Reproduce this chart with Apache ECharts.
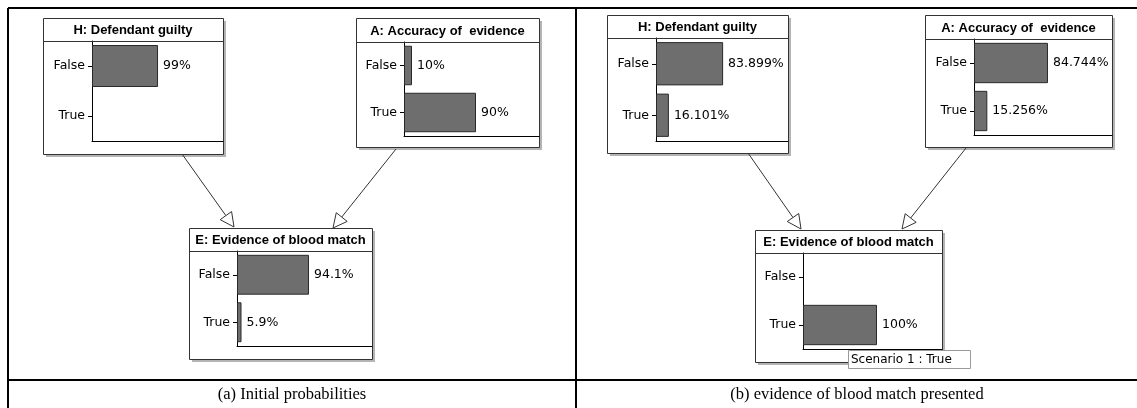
<!DOCTYPE html>
<html>
<head>
<meta charset="utf-8">
<script src="https://cdn.jsdelivr.net/npm/echarts@6/dist/echarts.min.js"></script>
<style>
  html, body { margin: 0; padding: 0; background: #fff; }
  #chart { width: 1137px; height: 408px; }
</style>
</head>
<body>
<div id="chart"></div>
<script>
// states of every node
const categories = ['False', 'True']

// (a) initial probabilities, in %
const hPriorValues = [99, '-']
const aPriorValues = [10, 90]
const ePriorValues = [94.1, 5.9]

// (b) after the blood match evidence, in %
const hPostValues = [83.899, 16.101]
const aPostValues = [84.744, 15.256]
const ePostValues = ['-', 100]

const nodeTitles = ['H: Defendant guilty', 'A: Accuracy of  evidence', 'E: Evidence of blood match']
const captions = ['(a) Initial probabilities', '(b) evidence of blood match presented']

// node boxes (layout only)
const nodes = [
  { title: nodeTitles[0], values: hPriorValues, x: 43, y: 18, w: 180, h: 136, sep: 41, axisX: 92, bottom: 141, px100: 66.7 },
  { title: nodeTitles[1], values: aPriorValues, x: 356, y: 18, w: 183, h: 129, sep: 42, axisX: 404, bottom: 136, px100: 80 },
  { title: nodeTitles[2], values: ePriorValues, x: 189, y: 228, w: 183, h: 131, sep: 251, axisX: 237, bottom: 346, px100: 76.5 },
  { title: nodeTitles[0], values: hPostValues, x: 607, y: 15, w: 181, h: 138, sep: 38, axisX: 656, bottom: 141, px100: 80 },
  { title: nodeTitles[1], values: aPostValues, x: 925, y: 15, w: 187, h: 132, sep: 39, axisX: 974, bottom: 135, px100: 87.3 },
  { title: nodeTitles[2], values: ePostValues, x: 755, y: 230, w: 187, h: 132, sep: 253, axisX: 803, bottom: 349, px100: 74 }
]

const arrows = [
  [182, 154, 234, 227], [396, 149, 333, 228],
  [748, 153, 801, 229], [966, 148, 902, 229]
]

const labelFont = 'DejaVu Sans'
const chart = echarts.init(document.getElementById('chart'))

const grids = [], xAxes = [], yAxes = [], series = [], graphics = []

nodes.forEach((n, i) => {
  const width = n.x + n.w - n.axisX
  grids.push({ left: n.axisX, top: n.sep, width: width, height: n.bottom - n.sep })
  xAxes.push({
    gridIndex: i, type: 'value', min: 0, max: 100 * width / n.px100,
    axisLine: { show: true, lineStyle: { color: '#000', width: 1 } },
    axisTick: { show: false }, axisLabel: { show: false }, splitLine: { show: false }
  })
  yAxes.push({
    gridIndex: i, type: 'category', data: categories, inverse: true,
    axisLine: { show: true, lineStyle: { color: '#000', width: 1 } },
    axisTick: { show: true, alignWithLabel: true, length: 4, lineStyle: { color: '#000' } },
    axisLabel: { color: '#000', fontSize: 12.5, fontFamily: labelFont, margin: 7 }
  })
  series.push({
    type: 'bar', xAxisIndex: i, yAxisIndex: i, data: n.values,
    barCategoryGap: '16%', silent: true,
    itemStyle: { color: '#6e6e6e', borderColor: '#2a2a2a', borderWidth: 1 },
    label: {
      show: true, position: 'right', distance: 5, color: '#000',
      fontSize: 12.5, fontFamily: labelFont, formatter: p => p.value + '%'
    }
  })

  // box, shadow, title bar
  graphics.push(
    { type: 'rect', z: -20, shape: { x: n.x + 3, y: n.y + 3, width: n.w, height: n.h }, style: { fill: '#b4b4b4' } },
    { type: 'rect', z: -10, shape: { x: n.x + 0.5, y: n.y + 0.5, width: n.w, height: n.h }, style: { fill: '#fff', stroke: '#333', lineWidth: 1 } },
    { type: 'line', z: 5, shape: { x1: n.x, y1: n.sep + 0.5, x2: n.x + n.w, y2: n.sep + 0.5 }, style: { stroke: '#333', lineWidth: 1 } },
    {
      type: 'text', z: 5, x: n.x + n.w / 2, y: (n.y + n.sep) / 2 + 1,
      style: { text: n.title, font: 'bold 13px "Liberation Sans", Arial, sans-serif', fill: '#000', align: 'center', verticalAlign: 'middle' }
    }
  )
})

// arrows with hollow heads
arrows.forEach(([x1, y1, x2, y2]) => {
  const len = Math.hypot(x2 - x1, y2 - y1)
  const ux = (x2 - x1) / len, uy = (y2 - y1) / len
  const bx = x2 - ux * 14, by = y2 - uy * 14
  const px = -uy * 7, py = ux * 7
  graphics.push(
    { type: 'line', z: 8, shape: { x1, y1, x2: bx, y2: by }, style: { stroke: '#333', lineWidth: 1 } },
    { type: 'polygon', z: 8, shape: { points: [[x2, y2], [bx + px, by + py], [bx - px, by - py]] }, style: { fill: '#fff', stroke: '#333', lineWidth: 1 } }
  )
})

// table frame
const tableLine = (x1, y1, x2, y2) => ({ type: 'line', z: 20, shape: { x1, y1, x2, y2 }, style: { stroke: '#000', lineWidth: 2 } })
graphics.push(
  tableLine(8, 8, 1140, 8),
  tableLine(8, 8, 8, 410),
  tableLine(576, 8, 576, 410),
  tableLine(8, 380, 1140, 380)
)
captions.forEach((c, i) => {
  graphics.push({
    type: 'text', z: 20, x: i === 0 ? 292 : 857, y: 395,
    style: { text: c, font: '16.5px "Liberation Serif", "Times New Roman", serif', fill: '#000', align: 'center', verticalAlign: 'middle' }
  })
})

// evidence tooltip in panel (b)
graphics.push(
  { type: 'rect', z: 30, shape: { x: 848.5, y: 350.5, width: 122, height: 18 }, style: { fill: '#fff', stroke: '#9a9a9a', lineWidth: 1 } },
  { type: 'text', z: 31, x: 851, y: 360, style: { text: 'Scenario 1 : True', font: '12px "DejaVu Sans", sans-serif', fill: '#000', verticalAlign: 'middle' } }
)

chart.setOption({
  animation: false,
  grid: grids,
  xAxis: xAxes,
  yAxis: yAxes,
  series: series,
  graphic: graphics
})
</script>
</body>
</html>
